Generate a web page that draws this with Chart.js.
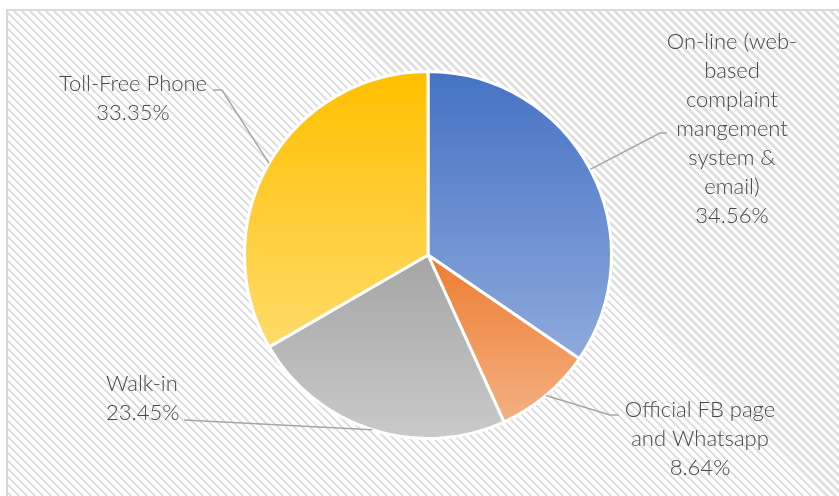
<!DOCTYPE html>
<html>
<head>
<meta charset="utf-8">
<script src="https://cdn.jsdelivr.net/npm/chart.js@4"></script>
<style>
  html, body { margin: 0; padding: 0; background: #ffffff; }
  #wrap { position: relative; width: 839px; height: 496px; overflow: hidden; }
  #frame {
    position: absolute; left: 6px; top: 9px; width: 860px; height: 520px;
    border: 2px solid #d9d9d9; box-sizing: border-box;
    background: repeating-linear-gradient(45deg, #e0e0e0 0px, #e0e0e0 2.5px, #ffffff 2.5px, #ffffff 5.66px);
  }
  #c { position: absolute; left: 0; top: 0; }
</style>
</head>
<body>
<div id="wrap">
  <div id="frame"></div>
  <canvas id="c" width="839" height="496"></canvas>
</div>
<script>
// Complaint channels and their shares (%)
const categories = [
  ['On-line (web-', 'based', 'complaint', 'mangement', 'system &', 'email)'],
  ['Official FB page', 'and Whatsapp'],
  ['Walk-in'],
  ['Toll-Free Phone']
];
const shares = [34.56, 8.64, 23.45, 33.35];
const percentLabels = ['34.56%', '8.64%', '23.45%', '33.35%'];

// Gradient stops (top -> bottom) per slice
const gradTop = ['#4472c4', '#ed7d31', '#a5a5a5', '#ffc000'];
const gradBottom = ['#8faadc', '#f4b183', '#cacaca', '#ffdb69'];

// Label placement: text anchor x, first line y, leader elbow points
const labelLayout = [
  { x: 732, y: 42, align: 'center', elbow: [[660, 133], [667, 133]] },
  { x: 700, y: 410, align: 'center', elbow: [[610, 415], [619, 415]] },
  { x: 106, y: 384, align: 'left', elbow: [[184, 420]] },
  { x: 133, y: 84, align: 'center', elbow: [[222, 90], [213, 90]] }
];

// Vertical extent of a slice, from the pie geometry inside the chart area
function sliceYRange(chart, i) {
  const area = chart.chartArea;
  const cy = (area.top + area.bottom) / 2;
  const r = Math.min(area.right - area.left, area.bottom - area.top) / 2;
  const total = shares.reduce((a, b) => a + b, 0);
  let before = 0;
  for (let k = 0; k < i; k++) before += shares[k];
  const a0 = -Math.PI / 2 + before / total * Math.PI * 2;
  const a1 = a0 + shares[i] / total * Math.PI * 2;
  const ys = [cy, cy + Math.sin(a0) * r, cy + Math.sin(a1) * r];
  [-Math.PI / 2, Math.PI / 2, Math.PI * 1.5].forEach(t => {
    if (t >= a0 && t <= a1) ys.push(cy + Math.sin(t) * r);
  });
  return [Math.min(...ys), Math.max(...ys)];
}

function sliceFill(ctx) {
  const chart = ctx.chart;
  const i = ctx.dataIndex;
  if (!chart.chartArea) return gradTop[i];
  const [y0, y1] = sliceYRange(chart, i);
  const g = chart.ctx.createLinearGradient(0, y0, 0, y1);
  g.addColorStop(0, gradTop[i]);
  g.addColorStop(1, gradBottom[i]);
  return g;
}

const FONT = '300 22px Lato, "Open Sans", sans-serif';
const LINE_H = 29;

const calloutPlugin = {
  id: 'callouts',
  afterDatasetsDraw(chart) {
    const ctx = chart.ctx;
    const meta = chart.getDatasetMeta(0);
    ctx.save();
    meta.data.forEach((arc, i) => {
      const { x, y, startAngle, endAngle, outerRadius } = arc.getProps(['x', 'y', 'startAngle', 'endAngle', 'outerRadius'], true);
      const mid = (startAngle + endAngle) / 2;
      const sx = x + Math.cos(mid) * outerRadius;
      const sy = y + Math.sin(mid) * outerRadius;
      const lay = labelLayout[i];
      ctx.strokeStyle = '#a6a6a6';
      ctx.lineWidth = 1.5;
      ctx.beginPath();
      ctx.moveTo(sx, sy);
      lay.elbow.forEach(p => ctx.lineTo(p[0], p[1]));
      ctx.stroke();

      const lines = categories[i].concat([percentLabels[i]]);
      ctx.fillStyle = '#4a4a4a';
      ctx.font = FONT;
      ctx.textAlign = lay.align;
      ctx.textBaseline = 'middle';
      lines.forEach((t, k) => ctx.fillText(t, lay.x, lay.y + k * LINE_H));
    });
    ctx.restore();
  }
};

new Chart(document.getElementById('c'), {
  type: 'pie',
  data: {
    labels: categories.map(c => c.join(' ')),
    datasets: [{
      data: shares,
      backgroundColor: sliceFill,
      borderColor: '#ffffff',
      borderWidth: 3
    }]
  },
  options: {
    responsive: false,
    animation: false,
    layout: { padding: { left: 199, right: 182, top: 70, bottom: 56 } },
    plugins: {
      legend: { display: false },
      tooltip: { enabled: false }
    }
  },
  plugins: [calloutPlugin]
});
</script>
</body>
</html>
